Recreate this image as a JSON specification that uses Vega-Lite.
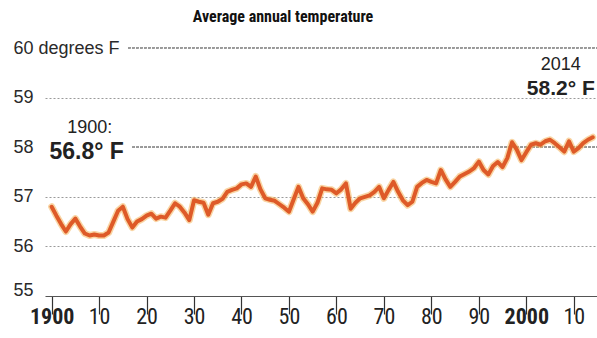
{
  "$schema": "https://vega.github.io/schema/vega-lite/v6.json",
  "width": 552,
  "height": 248,
  "autosize": "none",
  "padding": {"left": 45, "top": 48, "right": 0, "bottom": 42},
  "background": "white",
  "config": {
    "view": {"stroke": null},
    "font": "Liberation Sans Narrow, Roboto Condensed, DejaVu Sans Condensed, Liberation Sans, sans-serif"
  },
  "title": {
    "text": "Average annual temperature",
    "fontSize": 16,
    "fontWeight": "bold",
    "color": "#111111",
    "anchor": "middle",
    "frame": "group",
    "dx": -38,
    "offset": 14
  },
  "datasets": {
    "temps": [
      {"year": 1900, "temp": 56.8}, {"year": 1901, "temp": 56.62}, {"year": 1902, "temp": 56.45},
      {"year": 1903, "temp": 56.3}, {"year": 1904, "temp": 56.45}, {"year": 1905, "temp": 56.56},
      {"year": 1906, "temp": 56.4}, {"year": 1907, "temp": 56.26}, {"year": 1908, "temp": 56.22},
      {"year": 1909, "temp": 56.24}, {"year": 1910, "temp": 56.22}, {"year": 1911, "temp": 56.22},
      {"year": 1912, "temp": 56.28}, {"year": 1913, "temp": 56.5}, {"year": 1914, "temp": 56.72},
      {"year": 1915, "temp": 56.8}, {"year": 1916, "temp": 56.55}, {"year": 1917, "temp": 56.38},
      {"year": 1918, "temp": 56.5}, {"year": 1919, "temp": 56.55}, {"year": 1920, "temp": 56.62},
      {"year": 1921, "temp": 56.66}, {"year": 1922, "temp": 56.56}, {"year": 1923, "temp": 56.6},
      {"year": 1924, "temp": 56.58}, {"year": 1925, "temp": 56.72}, {"year": 1926, "temp": 56.87},
      {"year": 1927, "temp": 56.8}, {"year": 1928, "temp": 56.68}, {"year": 1929, "temp": 56.53},
      {"year": 1930, "temp": 56.93}, {"year": 1931, "temp": 56.9}, {"year": 1932, "temp": 56.88},
      {"year": 1933, "temp": 56.64}, {"year": 1934, "temp": 56.87}, {"year": 1935, "temp": 56.9},
      {"year": 1936, "temp": 56.96}, {"year": 1937, "temp": 57.1}, {"year": 1938, "temp": 57.14},
      {"year": 1939, "temp": 57.17}, {"year": 1940, "temp": 57.25}, {"year": 1941, "temp": 57.27},
      {"year": 1942, "temp": 57.2}, {"year": 1943, "temp": 57.41}, {"year": 1944, "temp": 57.15},
      {"year": 1945, "temp": 56.97}, {"year": 1946, "temp": 56.94}, {"year": 1947, "temp": 56.92},
      {"year": 1948, "temp": 56.85}, {"year": 1949, "temp": 56.78}, {"year": 1950, "temp": 56.7},
      {"year": 1951, "temp": 56.95}, {"year": 1952, "temp": 57.2}, {"year": 1953, "temp": 56.97},
      {"year": 1954, "temp": 56.85}, {"year": 1955, "temp": 56.7}, {"year": 1956, "temp": 56.88},
      {"year": 1957, "temp": 57.17}, {"year": 1958, "temp": 57.15}, {"year": 1959, "temp": 57.14},
      {"year": 1960, "temp": 57.07}, {"year": 1961, "temp": 57.15}, {"year": 1962, "temp": 57.27},
      {"year": 1963, "temp": 56.76}, {"year": 1964, "temp": 56.88}, {"year": 1965, "temp": 56.97},
      {"year": 1966, "temp": 57.0}, {"year": 1967, "temp": 57.03}, {"year": 1968, "temp": 57.1},
      {"year": 1969, "temp": 57.2}, {"year": 1970, "temp": 56.97}, {"year": 1971, "temp": 57.14},
      {"year": 1972, "temp": 57.3}, {"year": 1973, "temp": 57.1}, {"year": 1974, "temp": 56.93},
      {"year": 1975, "temp": 56.83}, {"year": 1976, "temp": 56.9}, {"year": 1977, "temp": 57.2},
      {"year": 1978, "temp": 57.28}, {"year": 1979, "temp": 57.34}, {"year": 1980, "temp": 57.3},
      {"year": 1981, "temp": 57.27}, {"year": 1982, "temp": 57.54}, {"year": 1983, "temp": 57.35},
      {"year": 1984, "temp": 57.2}, {"year": 1985, "temp": 57.3}, {"year": 1986, "temp": 57.41},
      {"year": 1987, "temp": 57.46}, {"year": 1988, "temp": 57.51}, {"year": 1989, "temp": 57.58},
      {"year": 1990, "temp": 57.71}, {"year": 1991, "temp": 57.54}, {"year": 1992, "temp": 57.45},
      {"year": 1993, "temp": 57.62}, {"year": 1994, "temp": 57.7}, {"year": 1995, "temp": 57.6},
      {"year": 1996, "temp": 57.78}, {"year": 1997, "temp": 58.1}, {"year": 1998, "temp": 57.95},
      {"year": 1999, "temp": 57.74}, {"year": 2000, "temp": 57.9}, {"year": 2001, "temp": 58.05},
      {"year": 2002, "temp": 58.08}, {"year": 2003, "temp": 58.05}, {"year": 2004, "temp": 58.12},
      {"year": 2005, "temp": 58.15}, {"year": 2006, "temp": 58.08}, {"year": 2007, "temp": 58.0},
      {"year": 2008, "temp": 57.91}, {"year": 2009, "temp": 58.12}, {"year": 2010, "temp": 57.91},
      {"year": 2011, "temp": 57.98}, {"year": 2012, "temp": 58.08}, {"year": 2013, "temp": 58.15},
      {"year": 2014, "temp": 58.2}
    ]
  },
  "data": {"name": "temps"},
  "encoding": {
    "x": {
      "field": "year",
      "type": "quantitative",
      "scale": {"domain": [1898.6, 2014.9], "nice": false, "zero": false},
      "axis": {
        "title": null,
        "values": [1900, 1910, 1920, 1930, 1940, 1950, 1960, 1970, 1980, 1990, 2000, 2010],
        "labelExpr": "datum.value == 1900 || datum.value == 2000 ? toString(datum.value) : substring(toString(datum.value), 2)",
        "labelFont": "Liberation Sans Narrow, Roboto Condensed, sans-serif",
        "labelFontWeight": {"condition": {"test": "datum.value == 1900 || datum.value == 2000", "value": "bold"}, "value": "normal"},
        "labelFontSize": 22,
        "labelColor": "#222222",
        "labelFlush": false,
        "labelPadding": -8,
        "tickSize": 18,
        "tickColor": "#333333",
        "tickWidth": 1.2,
        "domainColor": "#555555",
        "domainWidth": 1.2,
        "grid": false
      }
    },
    "y": {
      "field": "temp",
      "type": "quantitative",
      "scale": {"domain": [55, 60], "nice": false, "zero": false},
      "axis": {
        "title": null,
        "values": [55, 56, 57, 58, 59, 60],
        "labelExpr": "datum.value == 60 ? '60 degrees F' : datum.label",
        "labelFont": "Liberation Sans, Arial, sans-serif",
        "labelAlign": "left",
        "labelBaseline": "middle",
        "labelPadding": 32,
        "labelOffset": {"condition": {"test": "datum.value == 55", "value": -6}, "value": 0},
        "labelFontSize": 18,
        "labelColor": "#2a2a2a",
        "ticks": false,
        "domain": false,
        "grid": true,
        "gridColor": "#9a9a9a",
        "gridDash": [2, 2],
        "gridWidth": 1,
        "gridOpacity": {"condition": {"test": "datum.value == 60 || datum.value == 58 || datum.value == 55", "value": 0}, "value": 1}
      }
    }
  },
  "layer": [
    {
      "mark": {"type": "rule", "color": "#9a9a9a", "strokeDash": [2, 2], "strokeWidth": 1},
      "encoding": {"x": {"datum": 1916.1}, "x2": {"datum": 2014.9}, "y": {"datum": 60}}
    },
    {
      "mark": {"type": "rule", "color": "#9a9a9a", "strokeDash": [2, 2], "strokeWidth": 1},
      "encoding": {"x": {"datum": 1917.1}, "x2": {"datum": 2014.9}, "y": {"datum": 58}}
    },
    {
      "mark": {"type": "line", "color": "#f4b25a", "strokeWidth": 7, "opacity": 0.55, "strokeJoin": "round", "strokeCap": "round"}
    },
    {
      "mark": {"type": "line", "color": "#de5a28", "strokeWidth": 4, "strokeJoin": "round", "strokeCap": "round"}
    },
    {
      "transform": [{"filter": "datum.year == 1900"}],
      "mark": {"type": "text", "text": "1900:", "font": "Liberation Sans, Arial, sans-serif", "fontSize": 18, "color": "#222222", "align": "center", "baseline": "middle", "dx": 38, "dy": -79}
    },
    {
      "transform": [{"filter": "datum.year == 1900"}],
      "mark": {"type": "text", "text": "56.8° F", "font": "Liberation Sans, Arial, sans-serif", "fontSize": 23, "fontWeight": "bold", "color": "#222222", "align": "center", "baseline": "middle", "dx": 35, "dy": -55}
    },
    {
      "transform": [{"filter": "datum.year == 2014"}],
      "mark": {"type": "text", "text": "2014", "font": "Liberation Sans, Arial, sans-serif", "fontSize": 18, "color": "#222222", "align": "center", "baseline": "middle", "dx": -32, "dy": -72}
    },
    {
      "transform": [{"filter": "datum.year == 2014"}],
      "mark": {"type": "text", "text": "58.2° F", "font": "Liberation Sans, Arial, sans-serif", "fontSize": 21, "fontWeight": "bold", "color": "#222222", "align": "right", "baseline": "middle", "dx": 2, "dy": -48}
    }
  ]
}
